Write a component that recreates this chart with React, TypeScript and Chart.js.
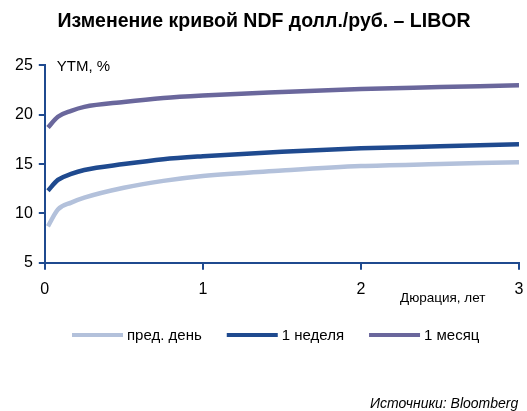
import React, { useEffect, useRef } from "react";
import { Chart, registerables } from "chart.js";

Chart.register(...registerables);

const durations = [0.02, 0.083, 0.167, 0.25, 0.5, 0.75, 1, 1.5, 2, 2.5, 3];
const prevDay = [8.7, 10.4, 11.1, 11.6, 12.6, 13.3, 13.8, 14.35, 14.8, 15.0, 15.2];
const oneWeek = [12.3, 13.4, 14.0, 14.4, 15.0, 15.5, 15.8, 16.25, 16.6, 16.8, 17.0];
const oneMonth = [18.7, 19.8, 20.4, 20.8, 21.3, 21.7, 21.95, 22.3, 22.6, 22.8, 23.0];
const seriesNames = ["пред. день", "1 неделя", "1 месяц"];
const yTicks = [5, 10, 15, 20, 25];
const xTicks = [0, 1, 2, 3];

const FONT = "'Liberation Sans', Arial, sans-serif";
const AXIS = "#1F4A8F";

export default function App() {
  const ref = useRef<HTMLCanvasElement>(null);
  useEffect(() => {
    const mk = (vals: number[]) => durations.map((x, i) => ({ x, y: vals[i] }));
    const colors = ["#B3C1DB", "#1F4A8F", "#6A679C"];
    const textPlugin = {
      id: "texts",
      afterDraw(chart: any) {
        const { ctx, chartArea } = chart;
        ctx.save();
        ctx.fillStyle = "#000";
        ctx.textBaseline = "middle";
        ctx.textAlign = "left";
        ctx.font = `15px ${FONT}`;
        ctx.fillText("YTM, %", chartArea.left + 12, chartArea.top + 1);
        ctx.font = `13.5px ${FONT}`;
        ctx.fillText("Дюрация, лет", 400, 298);
        ctx.font = `italic 14px ${FONT}`;
        ctx.fillText("Источники: Bloomberg", 370, 404);
        // legend
        ctx.font = `15px ${FONT}`;
        let x = 72;
        const y = 335;
        chart.data.datasets.forEach((ds: any) => {
          ctx.fillStyle = ds.borderColor;
          ctx.fillRect(x, y - 2, 51, 4);
          x += 51 + 4;
          ctx.fillStyle = "#000";
          ctx.fillText(ds.label, x, y + 1);
          x += ctx.measureText(ds.label).width + 25;
        });
        ctx.restore();
      },
    };
    const chart = new Chart(ref.current!, {
      type: "line",
      data: {
        datasets: [prevDay, oneWeek, oneMonth].map((v, i) => ({
          label: seriesNames[i],
          data: mk(v),
          borderColor: colors[i],
          backgroundColor: colors[i],
          borderWidth: 4.5,
          pointRadius: 0,
          tension: 0.4,
          cubicInterpolationMode: "monotone" as const,
        })),
      },
      options: {
        responsive: false,
        animation: false,
        layout: { padding: { left: 9, right: 8, top: 0, bottom: 102 } },
        plugins: {
          title: {
            display: true,
            text: "Изменение кривой NDF долл./руб. – LIBOR",
            color: "#000",
            font: { family: FONT, size: 19.5, weight: "bold" },
            padding: { top: 10, bottom: 32 },
          },
          legend: { display: false },
          tooltip: { enabled: false },
        },
        scales: {
          x: {
            type: "linear",
            min: 0,
            max: 3,
            afterBuildTicks(s: any) {
              s.ticks = xTicks.map((v) => ({ value: v }));
            },
            afterFit(s: any) {
              s.paddingLeft = 0;
              s.paddingRight = 0;
            },
            grid: { display: true, drawOnChartArea: false, drawTicks: true, tickLength: 7, color: AXIS, lineWidth: 2 },
            border: { color: AXIS, width: 2 },
            ticks: { color: "#000", font: { family: FONT, size: 16 }, padding: 10, maxRotation: 0 },
          },
          y: {
            min: 5,
            max: 25,
            afterBuildTicks(s: any) {
              s.ticks = yTicks.map((v) => ({ value: v }));
            },
            grid: { display: true, drawOnChartArea: false, drawTicks: true, tickLength: 6, color: AXIS, lineWidth: 2 },
            border: { color: AXIS, width: 2 },
            ticks: { color: "#000", font: { family: FONT, size: 16 }, padding: 6 },
          },
        },
      },
      plugins: [textPlugin],
    } as any);
    return () => chart.destroy();
  }, []);
  return (
    <div style={{ position: "fixed", left: 0, top: 0, width: 527, height: 411, background: "#fff" }}>
      <canvas ref={ref} width={527} height={411} />
    </div>
  );
}
